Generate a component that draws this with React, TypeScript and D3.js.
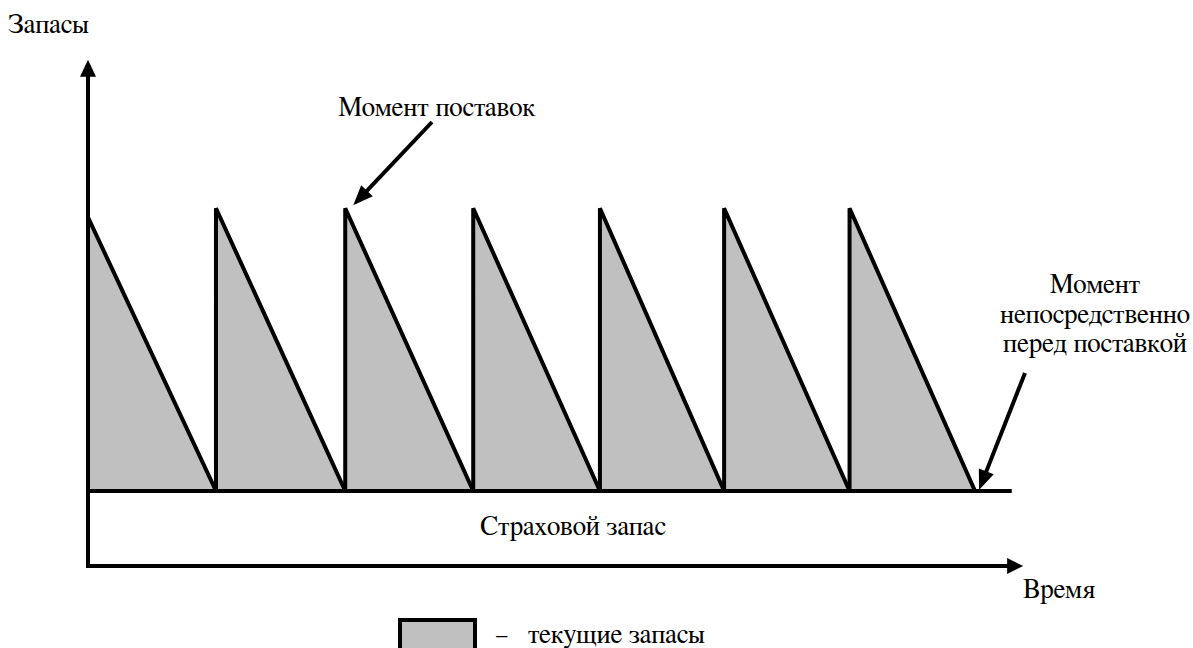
import * as React from "react";
import * as d3 from "d3";

// delivery moments (time units) and the stock level reached right after each delivery
const deliveryTimes = [0, 1.01, 2.03, 3.04, 4.04, 5.02, 6.01];
const depletionTimes = [1.01, 2.03, 3.04, 4.04, 5.02, 6.01, 7.0];
const peakLevels = [4.65, 4.77, 4.77, 4.77, 4.77, 4.77, 4.77];
const safetyStock = 1;

const axisLabels = { y: "Запасы", x: "Время" };
const deliveryNote = "Момент поставок";
const beforeDeliveryNote = ["Момент", "непосредственно", "перед поставкой"];
const safetyLabel = "Страховой запас";
const legendLabel = "текущие запасы";

const FILL = "#c0c0c0";
// pure cyrillic runs fall back to sans with Liberation Serif here, FreeSerif keeps them serif
const txt: React.CSSProperties = { fontFamily: "FreeSerif", fontSize: 27 };

const App: React.FC = () => {
    const W = 1193;
    const H = 648;

    const x = d3.scaleLinear().domain([0, 7]).range([88, 975]);
    const y = d3.scaleLinear().domain([0, 1]).range([566, 491]);

    const xEnd = 7.38;   // axis arrow tip
    const yEnd = 6.75;
    const baseEnd = 7.29;

    const teeth = deliveryTimes.map((t, i) => ({
        t0: t,
        t1: depletionTimes[i],
        peak: peakLevels[i],
    }));

    const toothPath = (d: { t0: number; t1: number; peak: number }) => {
        const p = d3.path();
        p.moveTo(x(d.t0), y(safetyStock));
        p.lineTo(x(d.t0), y(d.peak));
        p.lineTo(x(d.t1), y(safetyStock));
        p.closePath();
        return p.toString();
    };

    // annotation arrows
    const arrow1 = { from: [432, 122], to: [x(deliveryTimes[2]) + 8, y(peakLevels[2]) - 3] };
    const lastEnd = depletionTimes[depletionTimes.length - 1];
    const arrow2 = { from: [1025, 373], to: [x(lastEnd) + 4, y(safetyStock) - 1] };

    const arrowHead = (from: number[], to: number[], len: number, half: number) => {
        const dx = to[0] - from[0];
        const dy = to[1] - from[1];
        const l = Math.hypot(dx, dy);
        const ux = dx / l, uy = dy / l;
        const bx = to[0] - ux * len, by = to[1] - uy * len;
        return `M${to[0]},${to[1]}L${bx - uy * half},${by + ux * half}L${bx + uy * half},${by - ux * half}Z`;
    };
    const shaft = (from: number[], to: number[], len: number) => {
        const dx = to[0] - from[0];
        const dy = to[1] - from[1];
        const l = Math.hypot(dx, dy);
        return [to[0] - (dx / l) * (len - 2), to[1] - (dy / l) * (len - 2)];
    };

    const a1 = shaft(arrow1.from, arrow1.to, 18);
    const a2 = shaft(arrow2.from, arrow2.to, 18);

    return (
        <svg width={W} height={H} style={{ position: "absolute", left: 0, top: 0 }}>
            <rect width={W} height={H} fill="#fff" />

            {/* stock teeth */}
            {teeth.map((d, i) => (
                <path key={i} d={toothPath(d)} fill={FILL} stroke="#000" strokeWidth={4} strokeLinejoin="miter" />
            ))}

            {/* safety stock level */}
            <line x1={x(0)} x2={x(baseEnd)} y1={y(safetyStock)} y2={y(safetyStock)} stroke="#000" strokeWidth={4} />

            {/* axes */}
            <line x1={x(0)} x2={x(0)} y1={y(0) + 2} y2={y(yEnd) + 14} stroke="#000" strokeWidth={4} />
            <path d={`M${x(0)},${y(yEnd)}L${x(0) - 8},${y(yEnd) + 17}L${x(0) + 8},${y(yEnd) + 17}Z`} fill="#000" />
            <line x1={x(0) - 2} x2={x(xEnd) - 14} y1={y(0)} y2={y(0)} stroke="#000" strokeWidth={4} />
            <path d={`M${x(xEnd)},${y(0)}L${x(xEnd) - 16},${y(0) - 8}L${x(xEnd) - 16},${y(0) + 8}Z`} fill="#000" />

            {/* annotation arrows */}
            <line x1={arrow1.from[0]} y1={arrow1.from[1]} x2={a1[0]} y2={a1[1]} stroke="#000" strokeWidth={4} />
            <path d={arrowHead(arrow1.from, arrow1.to, 20, 8)} fill="#000" />
            <line x1={arrow2.from[0]} y1={arrow2.from[1]} x2={a2[0]} y2={a2[1]} stroke="#000" strokeWidth={4} />
            <path d={arrowHead(arrow2.from, arrow2.to, 20, 8)} fill="#000" />

            {/* texts */}
            <text x={8} y={33} style={txt}>{axisLabels.y}</text>
            <text x={1023} y={598} style={txt}>{axisLabels.x}</text>
            <text x={437} y={116} style={txt} textAnchor="middle">{deliveryNote}</text>
            {beforeDeliveryNote.map((s, i) => (
                <text key={i} x={1095} y={293 + i * 29.5} style={txt} textAnchor="middle">{s}</text>
            ))}
            <text x={480} y={535} style={txt}>{safetyLabel}</text>

            {/* legend */}
            <rect x={400} y={620} width={75} height={30} fill={FILL} stroke="#000" strokeWidth={4} />
            <text x={495} y={643} style={txt}>–</text>
            <text x={528} y={643} style={txt}>{legendLabel}</text>
        </svg>
    );
};

export default App;
